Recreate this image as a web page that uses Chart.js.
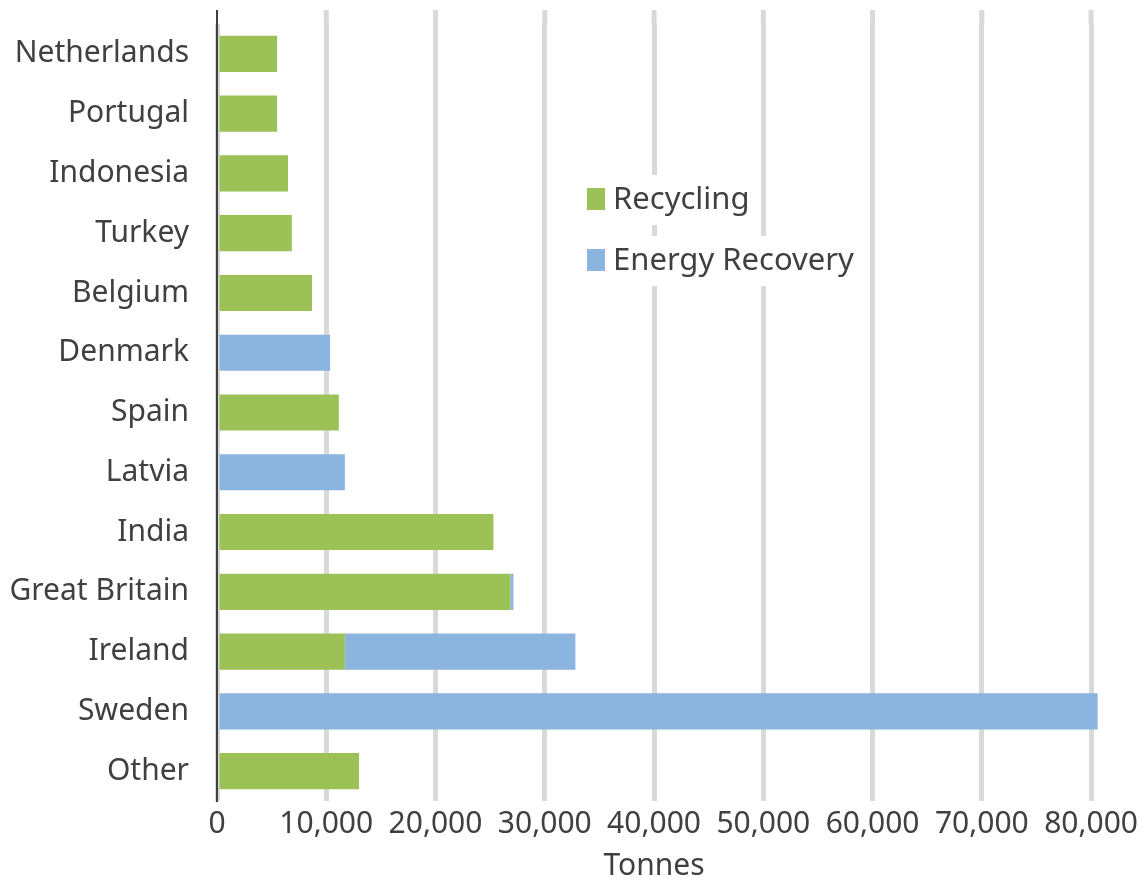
<!DOCTYPE html>
<html>
<head>
<meta charset="utf-8">
<script src="https://cdn.jsdelivr.net/npm/chart.js@4.4.0/dist/chart.umd.min.js"></script>
<style>
html,body{margin:0;padding:0;background:#fff;}
#wrap{width:1143px;height:880px;position:relative;}
</style>
</head>
<body>
<div id="wrap"><canvas id="c" width="1143" height="880"></canvas></div>
<script>
const categories = ["Netherlands","Portugal","Indonesia","Turkey","Belgium","Denmark","Spain","Latvia","India","Great Britain","Ireland","Sweden","Other"];
const recycling = [5500, 5500, 6500, 6850, 8700, 0, 11150, 0, 25300, 26850, 11700, 0, 13000];
const energyRecovery = [0, 0, 0, 0, 0, 10350, 0, 11700, 0, 280, 21100, 80600, 0];
const xTicks = [0,10000,20000,30000,40000,50000,60000,70000,80000];
const seriesNames = ["Recycling","Energy Recovery"];
const seriesColors = ["#9bc157","#8bb4de"];
const axisTitle = "Tonnes";

const FONT = "'Noto Sans', 'Open Sans', sans-serif";
const TEXT = "#404040";
const PLOT_TOP = 10;

// extends the vertical gridlines and the value-axis line above the category band (plot-area margin)
const plotExtension = {
  id: 'plotExtension',
  beforeDatasetsDraw(chart) {
    const ctx = chart.ctx, xs = chart.scales.x, top = chart.chartArea.top;
    ctx.save();
    ctx.strokeStyle = '#d9d9d9';
    ctx.lineWidth = 5;
    xs.ticks.forEach(t => {
      if (t.value === 0) return;
      const px = xs.getPixelForValue(t.value);
      ctx.beginPath(); ctx.moveTo(px, PLOT_TOP); ctx.lineTo(px, top); ctx.stroke();
    });
    ctx.strokeStyle = '#404040';
    ctx.lineWidth = 2;
    const lx = chart.chartArea.left;
    ctx.beginPath(); ctx.moveTo(lx, PLOT_TOP); ctx.lineTo(lx, top + 1); ctx.stroke();
    ctx.restore();
  }
};

const insideLegend = {
  id: 'insideLegend',
  afterDraw(chart) {
    const ctx = chart.ctx;
    const x0 = 587, rows = [199, 260];
    ctx.save();
    ctx.font = "31px " + FONT;
    ctx.textBaseline = 'middle';
    chart.data.datasets.forEach((ds, i) => {
      const y = rows[i];
      const w = ctx.measureText(ds.label).width;
      ctx.fillStyle = '#ffffff';
      ctx.fillRect(x0 - 4, y - 24, w + 36, 50);
    });
    chart.data.datasets.forEach((ds, i) => {
      const y = rows[i];
      ctx.fillStyle = ds.backgroundColor;
      ctx.fillRect(x0, y - 11, 18, 22);
      ctx.fillStyle = TEXT;
      ctx.textAlign = 'left';
      ctx.fillText(ds.label, x0 + 26, y + 1);
    });
    ctx.restore();
  }
};

new Chart(document.getElementById('c'), {
  type: 'bar',
  data: {
    labels: categories,
    datasets: [
      {label: seriesNames[0], data: recycling, backgroundColor: seriesColors[0], clip: false},
      {label: seriesNames[1], data: energyRecovery, backgroundColor: seriesColors[1], clip: false}
    ]
  },
  options: {
    indexAxis: 'y',
    responsive: false,
    animation: false,
    devicePixelRatio: 1,
    layout: {padding: {top: 24, right: 51, left: 0, bottom: 0}},
    datasets: {bar: {categoryPercentage: 1, barPercentage: 0.605, borderWidth: 0}},
    plugins: {legend: {display: false}, tooltip: {enabled: false}},
    scales: {
      x: {
        stacked: true,
        min: 0, max: 80000,
        afterBuildTicks(scale) { scale.ticks = xTicks.map(v => ({value: v})); },
        grid: {color: '#d9d9d9', lineWidth: 5, drawTicks: false},
        border: {display: false},
        ticks: {
          color: TEXT, font: {family: FONT, size: 30}, padding: 5, maxRotation: 0,
          callback: v => v.toLocaleString('en-US')
        },
        title: {display: true, text: axisTitle, color: TEXT, font: {family: FONT, size: 30}, padding: {top: 1, bottom: -4}}
      },
      y: {
        stacked: true,
        afterFit(scale) { scale.width = 217; scale.paddingTop = 0; scale.paddingBottom = 0; },
        grid: {display: false, drawTicks: false},
        border: {display: true, color: '#404040', width: 2},
        ticks: {color: TEXT, font: {family: FONT, size: 30}, padding: 28}
      }
    }
  },
  plugins: [plotExtension, insideLegend]
});
</script>
</body>
</html>
